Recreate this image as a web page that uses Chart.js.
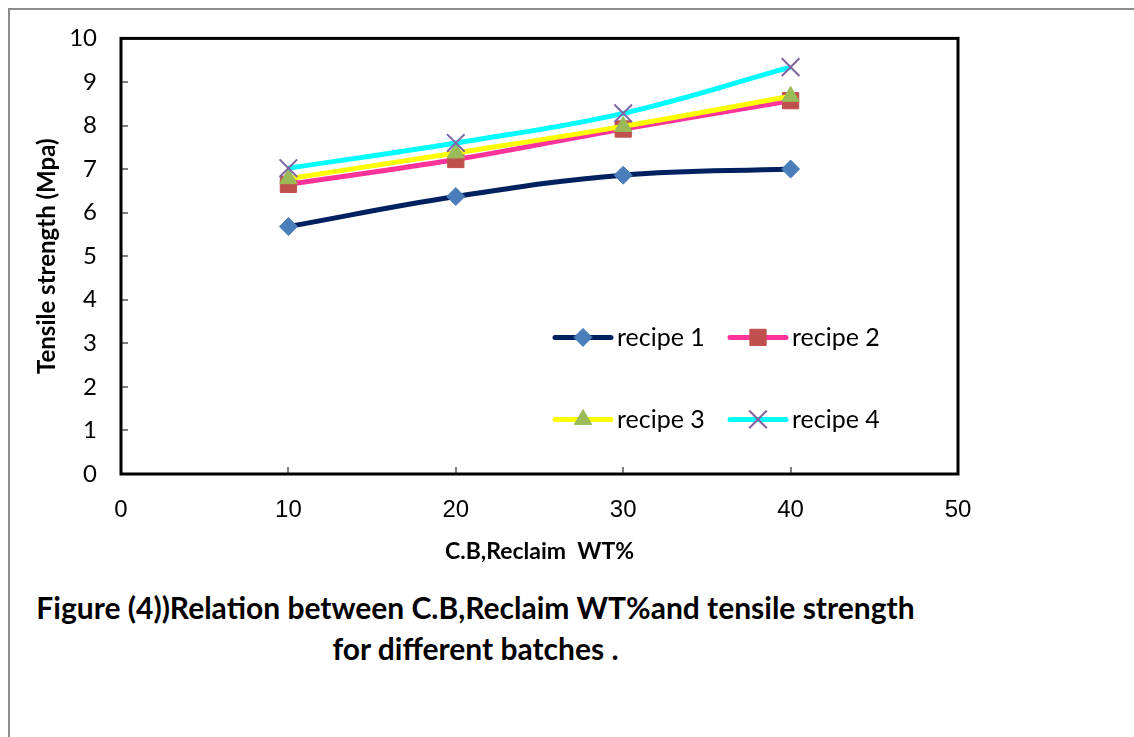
<!DOCTYPE html>
<html>
<head>
<meta charset="utf-8">
<title>Tensile strength vs C.B, Reclaim WT%</title>
<script src="https://cdn.jsdelivr.net/npm/chart.js@4.4.0/dist/chart.umd.min.js"></script>
<style>
  html, body { margin: 0; padding: 0; background: #fff; }
  body { width: 1134px; height: 737px; position: relative; overflow: hidden; }
  #frame {
    position: absolute; left: 8px; top: 8px; width: 1140px; height: 740px;
    border-top: 2px solid #8c8c8c; border-left: 2px solid #8c8c8c;
  }
  #wrap { position: absolute; left: 0; top: 0; width: 1134px; height: 580px; }
  #caption {
    position: absolute; left: 0; top: 587px; width: 951px;
    text-align: center; font-family: Lato, "Noto Sans", sans-serif;
    font-weight: bold; font-size: 30px; line-height: 41px; color: #000;
  }
</style>
</head>
<body>
<div id="frame"></div>
<div id="wrap"><canvas id="tensileChart"></canvas></div>
<div id="caption">Figure (4))Relation between C.B,Reclaim WT%and tensile strength<br>for different batches .</div>

<script>
// データ
const reclaimWt = [10, 20, 30, 40];
const recipe1 = [5.68, 6.37, 6.86, 7.0];
const recipe2 = [6.65, 7.22, 7.92, 8.57];
const recipe3 = [6.78, 7.37, 7.98, 8.67];
const recipe4 = [7.02, 7.6, 8.28, 9.34];
const seriesNames = ['recipe 1', 'recipe 2', 'recipe 3', 'recipe 4'];
const xTicks = [0, 10, 20, 30, 40, 50];
const yTicks = [0, 1, 2, 3, 4, 5, 6, 7, 8, 9, 10];

const toPoints = vals => reclaimWt.map((x, i) => ({ x: x, y: vals[i] }));

// 枠線と内向きの目盛り
const framePlugin = {
    id: 'frame',
    beforeDatasetsDraw(chart) {
        const ctx = chart.ctx;
        const a = chart.chartArea;
        const xs = chart.scales.x, ys = chart.scales.y;
        ctx.save();
        ctx.strokeStyle = '#808080';
        ctx.lineWidth = 2;
        ctx.beginPath();
        yTicks.slice(1, -1).forEach(v => {
            const y = Math.round(ys.getPixelForValue(v));
            ctx.moveTo(a.left, y);
            ctx.lineTo(a.left + 7, y);
        });
        xTicks.slice(1, -1).forEach(v => {
            const x = Math.round(xs.getPixelForValue(v));
            ctx.moveTo(x, a.bottom);
            ctx.lineTo(x, a.bottom - 7);
        });
        ctx.stroke();
        ctx.strokeStyle = '#000';
        ctx.lineWidth = 3;
        ctx.strokeRect(a.left, a.top, a.right - a.left, a.bottom - a.top);
        ctx.restore();
    }
};

// プロット内の凡例
const insideLegend = {
    id: 'insideLegend',
    afterDraw(chart) {
        const ctx = chart.ctx;
        const a = chart.chartArea;
        const spots = [[434, 299], [609, 299], [434, 381], [609, 381]];
        ctx.save();
        chart.data.datasets.forEach((ds, i) => {
            const x0 = a.left + spots[i][0];
            const y0 = a.top + spots[i][1];
            ctx.strokeStyle = ds.borderColor;
            ctx.lineWidth = ds.borderWidth;
            ctx.lineCap = 'round';
            ctx.beginPath();
            ctx.moveTo(x0, y0);
            ctx.lineTo(x0 + 56, y0);
            ctx.stroke();
            ctx.lineCap = 'butt';
            ctx.fillStyle = ds.pointBackgroundColor;
            ctx.strokeStyle = ds.pointBorderColor;
            ctx.lineWidth = ds.pointBorderWidth;
            Chart.helpers.drawPoint(ctx, {
                pointStyle: ds.pointStyle,
                radius: ds.pointRadius,
                rotation: 0,
                borderWidth: ds.pointBorderWidth
            }, x0 + 28, y0);
            ctx.fillStyle = '#000';
            ctx.font = '25px Lato, "Noto Sans", sans-serif';
            ctx.textBaseline = 'middle';
            ctx.textAlign = 'left';
            ctx.fillText(ds.label, x0 + 62, y0 + 1);
        });
        ctx.restore();
    }
};

const ctx = document.getElementById('tensileChart').getContext('2d');
new Chart(ctx, {
    type: 'line',
    data: {
        datasets: [
            {
                label: seriesNames[0], data: toPoints(recipe1), order: 3,
                borderColor: '#002060', borderWidth: 5,
                pointStyle: 'rectRot', pointRadius: 9,
                pointBackgroundColor: '#4a7ebb', pointBorderColor: '#4a7ebb', pointBorderWidth: 1
            },
            {
                label: seriesNames[1], data: toPoints(recipe2), order: 2,
                borderColor: '#ff3399', borderWidth: 5,
                pointStyle: 'rect', pointRadius: 11.5,
                pointBackgroundColor: '#c0504d', pointBorderColor: '#c0504d', pointBorderWidth: 1
            },
            {
                label: seriesNames[2], data: toPoints(recipe3), order: 1,
                borderColor: '#ffff00', borderWidth: 5,
                pointStyle: 'triangle', pointRadius: 10,
                pointBackgroundColor: '#9bbb59', pointBorderColor: '#9bbb59', pointBorderWidth: 1
            },
            {
                label: seriesNames[3], data: toPoints(recipe4), order: 0,
                borderColor: '#00ffff', borderWidth: 5,
                pointStyle: 'crossRot', pointRadius: 12.5,
                pointBackgroundColor: '#8064a2', pointBorderColor: '#8064a2', pointBorderWidth: 2
            }
        ]
    },
    options: {
        responsive: true,
        maintainAspectRatio: false,
        animation: false,
        layout: { padding: { left: 0, top: 37, right: 176, bottom: 0 } },
        elements: { line: { tension: 0.4, fill: false } },
        plugins: {
            legend: { display: false },
            tooltip: { enabled: false }
        },
        scales: {
            x: {
                type: 'linear', min: 0, max: 50,
                grid: { display: false, drawTicks: false },
                border: { display: false },
                ticks: {
                    stepSize: 10, padding: 22, color: '#000',
                    font: { family: '"Liberation Sans", Arial, sans-serif', size: 24 }
                },
                title: {
                    display: true, text: 'C.B,Reclaim  WT%', color: '#000',
                    font: { family: 'Lato, "Noto Sans", sans-serif', size: 23, weight: 'bold' },
                    padding: { top: 0, bottom: 15 }
                },
                afterFit(scale) { scale.height = 106; }
            },
            y: {
                min: 0, max: 10,
                grid: { display: false, drawTicks: false },
                border: { display: false },
                ticks: {
                    stepSize: 1, padding: 24, color: '#000',
                    font: { family: 'Lato, "Noto Sans", sans-serif', size: 24 }
                },
                title: {
                    display: true, text: 'Tensile strength (Mpa)', color: '#000',
                    font: { family: 'Lato, "Noto Sans", sans-serif', size: 24, weight: 'bold' },
                    padding: { top: 33, bottom: 0 }
                },
                afterFit(scale) { scale.width = 121; }
            }
        }
    },
    plugins: [framePlugin, insideLegend]
});
</script>
</body>
</html>
